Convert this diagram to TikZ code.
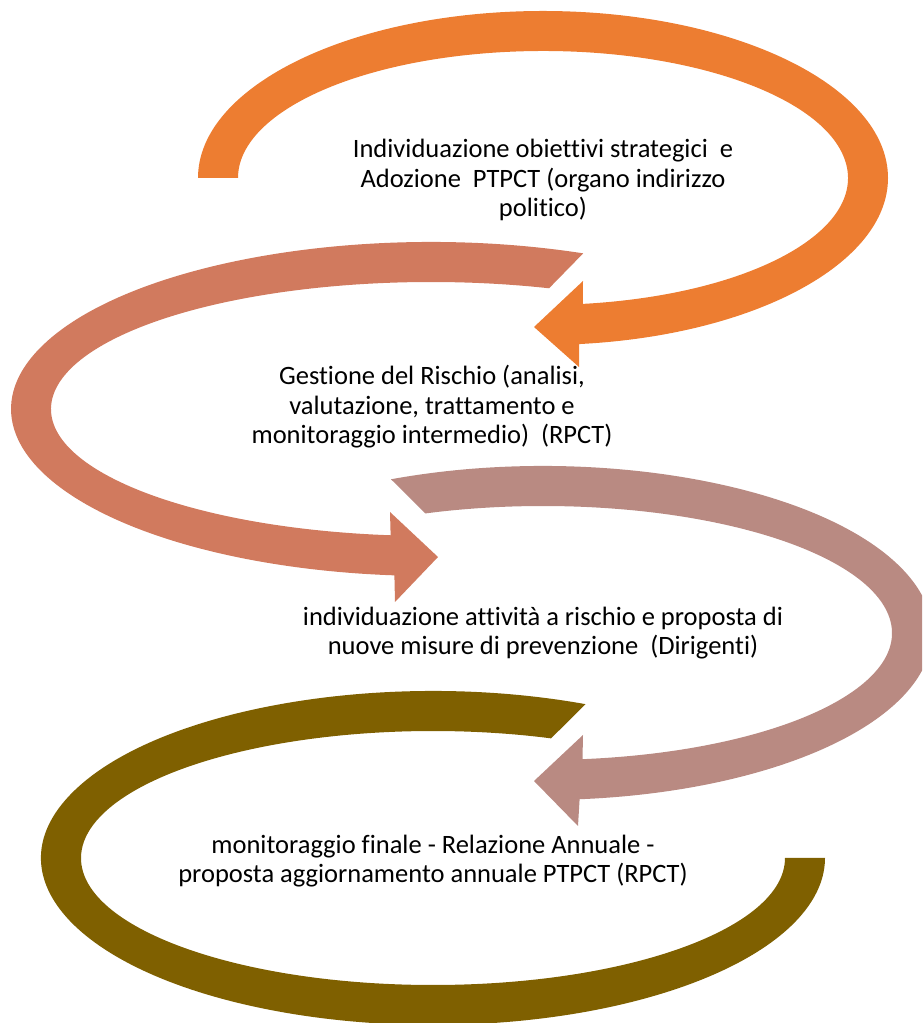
\documentclass[tikz,border=0pt]{standalone}
\usepackage{fontspec}
\setmainfont{Carlito}[Ligatures=NoCommon]
\usetikzlibrary{calc}
\definecolor{orangearc}{RGB}{237,125,49}
\definecolor{salmonarc}{RGB}{209,122,94}
\definecolor{mauvearc}{RGB}{185,138,130}
\definecolor{olivearc}{RGB}{127,96,0}
\tikzset{stagetext/.style={align=center,font=\fontsize{26.5}{29.5}\selectfont}}
\begin{document}
\begin{tikzpicture}[x=1pt,y=1pt]
                \useasboundingbox (0,0) rectangle (922,1023);
                \clip (0,0) rectangle (922,1023);
                %% centres of the loops
                \coordinate (oc) at (543,845);
                \coordinate (sc) at (431,614);
                \coordinate (mc) at (543,390);
                \coordinate (lc) at (433,165);
                %% orange loop
                \fill[orangearc] (oc) ++(180:345 and 167) arc[start angle=180,end angle=-84,x radius=345,y radius=167]
                    -- (579,656) -- (534,696) -- (583,742)
                    -- ($(oc)+(-82.5:305 and 127)$) arc[start angle=-82.5,end angle=180,x radius=305,y radius=127] -- cycle;
                %% salmon loop
                \fill[salmonarc] (sc) ++(68.75:420 and 167) arc[start angle=68.75,end angle=265,x radius=420,y radius=167]
                    -- (395,421) -- (438,466) -- (390,511)
                    -- ($(sc)+(263.9:380 and 127)$) arc[start angle=263.9,end angle=71.9,x radius=380,y radius=127] -- cycle;
                %% mauve loop
                \fill[mauvearc] (mc) ++(113:389 and 167) arc[start angle=113,end angle=-84.6,x radius=389,y radius=167]
                    -- (578,197) -- (534,242) -- (583,288)
                    -- ($(mc)+(-83.5:349 and 127)$) arc[start angle=-83.5,end angle=109.7,x radius=349,y radius=127] -- cycle;
                %% olive loop
                \fill[olivearc] (lc) ++(67.1:392 and 167) arc[start angle=67.1,end angle=360,x radius=392,y radius=167]
                    -- ($(lc)+(352,0)$) arc[start angle=360,end angle=70.4,x radius=352,y radius=127] -- cycle;
                %% texts
                \node[stagetext] (goals) at ($(oc)+(0,-2)$) {Individuazione obiettivi strategici~~e\\Adozione~~PTPCT (organo indirizzo\\politico)};
                \node[stagetext] (risk) at ($(sc)+(1,2)$) {Gestione del Rischio (analisi,\\valutazione, trattamento e\\monitoraggio intermedio)~~(RPCT)};
                \node[stagetext] (measures) at (mc) {individuazione attività a rischio e proposta di\\nuove misure di prevenzione~~(Dirigenti)};
                \node[stagetext] (report) at ($(lc)+(0,-3)$) {monitoraggio finale - Relazione Annuale -\\proposta aggiornamento annuale PTPCT (RPCT)};
            \end{tikzpicture}
\end{document}
